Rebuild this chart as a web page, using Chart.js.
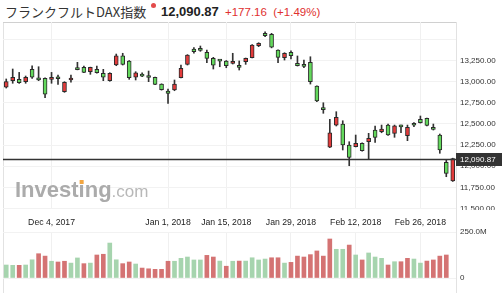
<!DOCTYPE html>
<html lang="ja">
<head>
<meta charset="UTF-8">
<title>フランクフルトDAX指数</title>
<script src="https://cdn.jsdelivr.net/npm/chart.js"></script>
<style>
  body { margin: 0; width: 502px; height: 293px; background: #fff; position: relative; overflow: hidden; font-family: "Liberation Sans", Arial, sans-serif; }
  .title { position: absolute; left: 5px; top: 5px; font: 13px/13px "Noto Sans CJK JP", sans-serif; color: #333; white-space: nowrap; }
  .dot { position: absolute; left: 151px; top: 3px; width: 5px; height: 5px; border-radius: 50%; background: #e34b4b; }
  .last { position: absolute; left: 161px; top: 5px; font: bold 13px/13px "Liberation Sans", Arial, sans-serif; color: #222; }
  .chg { position: absolute; left: 225px; top: 6px; font: 11.5px/12px "Liberation Sans", Arial, sans-serif; color: #e0302e; white-space: nowrap; }
  #price { position: absolute; left: 0; top: 22px; }
  #vol { position: absolute; left: 0; top: 209px; }
</style>
</head>
<body>
<div class="title">フランクフルトDAX指数</div>
<div class="dot"></div>
<div class="last" id="lastTxt"></div>
<div class="chg" id="chgTxt"></div>
<canvas id="price" width="502" height="188"></canvas>
<canvas id="vol" width="502" height="84"></canvas>

<script>
// daily sessions, Nov 23 2017 - Mar 5 2018
const dates = [
  '2017-11-23','2017-11-24','2017-11-27','2017-11-28','2017-11-29','2017-11-30','2017-12-01',
  '2017-12-04','2017-12-05','2017-12-06','2017-12-07','2017-12-08',
  '2017-12-11','2017-12-12','2017-12-13','2017-12-14','2017-12-15',
  '2017-12-18','2017-12-19','2017-12-20','2017-12-21','2017-12-22',
  '2017-12-27','2017-12-28','2017-12-29',
  '2018-01-02','2018-01-03','2018-01-04','2018-01-05',
  '2018-01-08','2018-01-09','2018-01-10','2018-01-11','2018-01-12',
  '2018-01-15','2018-01-16','2018-01-17','2018-01-18','2018-01-19',
  '2018-01-22','2018-01-23','2018-01-24','2018-01-25','2018-01-26',
  '2018-01-29','2018-01-30','2018-01-31','2018-02-01','2018-02-02',
  '2018-02-05','2018-02-06','2018-02-07','2018-02-08','2018-02-09',
  '2018-02-12','2018-02-13','2018-02-14','2018-02-15','2018-02-16',
  '2018-02-19','2018-02-20','2018-02-21','2018-02-22','2018-02-23',
  '2018-02-26','2018-02-27','2018-02-28','2018-03-01','2018-03-02',
  '2018-03-05'
];

const opens = [12934,13012,13028,13000,13146,13047,13040,13028,13043,12881,
  13020,13146,13170,13118,13146,13099,13012,13197,13307,13245,
  13052,13070,13054,13052,12972,12890,12902,13047,13205,13386,
  13383,13347,13276,13247,13245,13217,13189,13236,13284,13425,
  13572,13560,13375,13284,13347,13217,13197,13229,12949,12675,
  12224,12487,12499,12251,12231,12271,12290,12428,12408,12487,
  12389,12469,12361,12489,12555,12567,12440,12369,12046,11825];
const highs = [13032,13150,13110,13067,13189,13177,13045,13110,13079,13000,
  13079,13229,13185,13172,13185,13146,13106,13327,13336,13250,
  13118,13106,13126,13055,12975,12913,13020,13197,13320,13402,
  13422,13375,13288,13256,13250,13336,13245,13280,13438,13461,
  13591,13572,13378,13343,13366,13304,13256,13295,12952,12751,
  12555,12645,12538,12290,12369,12278,12389,12476,12487,12499,
  12487,12487,12487,12515,12594,12570,12499,12381,12073,12095];
const lows = [12925,12981,12980,12981,13040,13012,12810,12981,12969,12874,
  12993,13140,13106,13087,13100,13012,13005,13189,13197,13028,
  13020,13059,13000,12965,12900,12744,12893,13045,13197,13336,
  13359,13224,13150,13177,13165,13209,13138,13205,13280,13414,
  13532,13400,13224,13256,13268,13185,13165,12972,12763,12626,
  12220,12476,12192,12006,12228,12178,12082,12283,12396,12365,
  12342,12396,12302,12467,12510,12476,12428,12153,11876,11820];
const closes = [13000,13052,12988,13052,13052,13020,12851,13052,13035,12993,
  13040,13142,13111,13170,13106,13052,13099,13307,13205,13047,
  13106,13066,13050,12969,12905,12862,12972,13158,13316,13355,
  13371,13276,13194,13243,13189,13241,13170,13276,13434,13454,
  13544,13407,13288,13336,13307,13189,13182,13000,12771,12670,
  12396,12578,12251,12105,12271,12183,12330,12342,12440,12369,
  12479,12465,12460,12485,12515,12484,12436,12192,11916,12090.87];

// volume in millions (no bar yet for the last session)
const volumes = [70.6,69,69,70.6,99,132,119,91,87,91,
  81,109,78,81,125,129,190,99,78,87,
  76,54,50,47,47,91,91,107,114,98,
  98,123,114,92,64,91,92,92,110,98,
  103,110,110,81,85,119,114,127,147,119,
  212,156,156,179,125,98,136,114,107,70.6,
  88.5,88.5,107,103,81,92,98,119,125,null];
// 1 = session closed above the previous one (green volume bar)
const volUp = [1,1,0,1,1,0,0,1,0,0, 1,1,0,1,0,0,1,1,0,0,
  1,0,0,0,0,0,1,1,1,1, 1,0,0,1,0,1,0,1,1,1,
  1,0,0,1,0,0,0,0,0,0, 0,1,1,0,1,0,1,1,1,0,
  1,0,0,1,1,0,0,0,0,0];

const prevClose = 11913.71;
const priceTicks = [11500,11750,12000,12250,12500,12750,13000,13250,13500];
const volTicks = [0, 250];
const tickDates = ['2017-12-04','2018-01-01','2018-01-15','2018-01-29','2018-02-12','2018-02-26'];
const tickTexts = ['Dec 4, 2017','Jan 1, 2018','Jan 15, 2018','Jan 29, 2018','Feb 12, 2018','Feb 26, 2018'];

const last = closes[closes.length - 1];
const fmt = v => v.toLocaleString('en-US', { minimumFractionDigits: 2, maximumFractionDigits: 2 });
document.getElementById('lastTxt').textContent = fmt(last);
const chg = last - prevClose;
document.getElementById('chgTxt').textContent =
  '+' + chg.toFixed(2) + '\u00a0\u00a0(+' + (chg / prevClose * 100).toFixed(2) + '%)';

// label index -> text (first session on/after each tick date)
const tickAt = {};
tickDates.forEach((d, k) => {
  const i = dates.findIndex(x => x >= d);
  tickAt[i] = tickTexts[k];
});

const RED = '#e23b3b', GREEN = '#63d85c';
const bodyColors = opens.map((o, i) => closes[i] > o ? RED : GREEN);
const volColors = volUp.map(u => u ? 'rgba(150,205,160,0.85)' : 'rgba(205,90,90,0.85)');

const gridX = ctx => (tickAt[ctx.index] !== undefined ? '#f0f0f0' : 'rgba(0,0,0,0)');
const FONT = 'Liberation Sans';

// no extra room for the first/last tick labels
const noPad = s => { s.paddingTop = 0; s.paddingBottom = 0; };

const frame = {
  id: 'frame',
  beforeDraw(chart) {
    const { ctx, chartArea: a, height } = chart;
    ctx.save();
    ctx.strokeStyle = '#e2e2e2';
    ctx.lineWidth = 1;
    ctx.beginPath();
    ctx.moveTo(a.left + 0.5, 0); ctx.lineTo(a.left + 0.5, height);
    ctx.moveTo(a.right + 0.5, 0); ctx.lineTo(a.right + 0.5, height);
    ctx.stroke();
    if (chart.canvas.id === 'price') {
      ctx.strokeStyle = '#d0d0d0';
      ctx.beginPath();
      ctx.moveTo(a.left, 0.5); ctx.lineTo(a.right, 0.5);
      ctx.stroke();
    }
    ctx.restore();
  }
};

const watermark = {
  id: 'watermark',
  beforeDatasetsDraw(chart) {
    const ctx = chart.ctx;
    const x = 15, y = 175;
    ctx.save();
    ctx.font = 'bold 22px ' + FONT;
    ctx.fillStyle = '#ababab';
    ctx.textBaseline = 'alphabetic';
    ctx.fillText('Investing', x, y);
    const w = ctx.measureText('Investing').width;
    const wi = ctx.measureText('Invest').width;
    const wdot = ctx.measureText('i').width;
    ctx.fillStyle = '#f3a640';
    ctx.fillRect(x + wi + wdot / 2 - 2, y - 17, 4, 4);
    ctx.font = '17px ' + FONT;
    ctx.fillStyle = '#b8b8b8';
    ctx.fillText('.com', x + w, y);
    ctx.restore();
  }
};

const lastLine = {
  id: 'lastLine',
  afterDraw(chart) {
    const { ctx, chartArea: a } = chart;
    const y = Math.round(chart.scales.y.getPixelForValue(last)) + 0.5;
    ctx.save();
    ctx.strokeStyle = '#333';
    ctx.lineWidth = 1.3;
    ctx.beginPath();
    ctx.moveTo(a.left, y); ctx.lineTo(a.right, y);
    ctx.stroke();
    ctx.fillStyle = '#333';
    ctx.fillRect(a.right, y - 6.5, 46, 13);
    ctx.fillStyle = '#fff';
    ctx.font = '8px ' + FONT;
    ctx.textBaseline = 'middle';
    ctx.fillText(fmt(last), a.right + 4, y + 0.5);
    ctx.restore();
  }
};

new Chart(document.getElementById('price'), {
  type: 'bar',
  data: {
    labels: dates,
    datasets: [
      {
        data: lows.map((l, i) => [l, highs[i]]),
        backgroundColor: '#333',
        barThickness: 1,
        grouped: false,
        order: 1
      },
      {
        data: opens.map((o, i) => [o, closes[i]]),
        backgroundColor: bodyColors,
        borderColor: '#2a2a2a',
        borderWidth: 1,
        borderSkipped: false,
        barThickness: 4,
        minBarLength: 2,
        grouped: false,
        order: 0
      }
    ]
  },
  options: {
    responsive: false,
    animation: false,
    devicePixelRatio: 1,
    layout: { padding: { left: 3, top: 0, right: 0, bottom: 0 }, autoPadding: false },
    plugins: { legend: { display: false }, tooltip: { enabled: false } },
    scales: {
      x: {
        offset: true,
        ticks: { display: false, autoSkip: false },
        grid: { offset: false, drawTicks: false, color: gridX },
        border: { display: false },
        afterFit: s => { s.height = 1; }
      },
      y: {
        position: 'right',
        min: 11494,
        max: 13706,
        afterBuildTicks: s => { s.ticks = priceTicks.map(v => ({ value: v })); },
        afterFit: s => { s.width = 46; noPad(s); },
        grid: { color: '#f2f2f2', drawTicks: false },
        border: { display: false },
        ticks: {
          padding: 4,
          color: '#333',
          font: { family: FONT, size: 8 },
          callback: v => (v > 13250 ? '' : fmt(v))
        }
      }
    }
  },
  plugins: [frame, watermark, lastLine]
});

new Chart(document.getElementById('vol'), {
  type: 'bar',
  data: {
    labels: dates,
    datasets: [{
      data: volumes,
      backgroundColor: volColors,
      barThickness: 4
    }]
  },
  options: {
    responsive: false,
    animation: false,
    devicePixelRatio: 1,
    layout: { padding: { left: 3, top: 0, right: 0, bottom: 15 }, autoPadding: false },
    plugins: { legend: { display: false }, tooltip: { enabled: false } },
    scales: {
      x: {
        position: 'top',
        offset: true,
        ticks: {
          autoSkip: false,
          maxRotation: 0,
          padding: 4,
          color: '#222',
          font: { family: FONT, size: 8.7 },
          callback: (v, i) => tickAt[i] || ''
        },
        grid: { offset: false, drawTicks: false, color: gridX },
        border: { display: false },
        afterFit: s => { s.height = 23; }
      },
      y: {
        position: 'right',
        min: 0,
        max: 250,
        afterBuildTicks: s => { s.ticks = volTicks.map(v => ({ value: v })); },
        afterFit: s => { s.width = 46; noPad(s); },
        grid: { color: '#f2f2f2', drawTicks: false },
        border: { display: false },
        ticks: {
          padding: 4,
          color: '#333',
          font: { family: FONT, size: 8 },
          callback: v => (v === 0 ? '0' : v.toFixed(1) + 'M')
        }
      }
    }
  },
  plugins: [frame]
});
</script>
</body>
</html>
